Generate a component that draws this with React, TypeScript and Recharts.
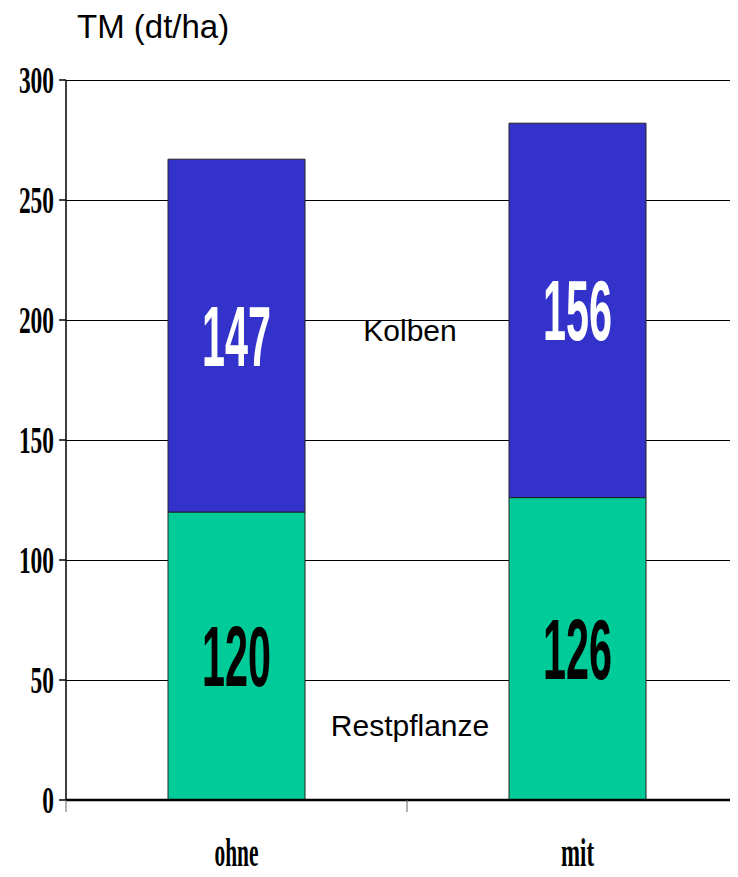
import { Bar, BarChart, CartesianGrid, LabelList, XAxis, YAxis } from 'recharts';

const categories = ['ohne', 'mit'];
const restpflanze = [120, 126];
const kolben = [147, 156];
const yTicks = [0, 50, 100, 150, 200, 250, 300];

const data = categories.map((name, i) => ({ name, restpflanze: restpflanze[i], kolben: kolben[i] }));

const YTick = (props: any) => {
    const { x, y, payload } = props;
    const s = String(payload.value);
    return (
        <text
            x={x - 3}
            y={y + 13}
            textAnchor="end"
            fontFamily="Liberation Serif"
            fontWeight="bold"
            fontSize={37}
            textLength={s.length * 11.7}
            lengthAdjust="spacingAndGlyphs"
            fill="#000"
        >
            {s}
        </text>
    );
};

const XTick = (props: any) => {
    const { x, y, payload, width } = props;
    const half = width / categories.length / 2;
    const s = String(payload.value);
    return (
        <g>
            <line x1={x - half} x2={x - half} y1={y - 8} y2={y + 4} stroke="#666" strokeWidth={1} />
            <text
                x={x}
                y={y + 58}
                textAnchor="middle"
                fontFamily="Liberation Serif"
                fontWeight="bold"
                fontSize={39}
                textLength={s.length * 11}
                lengthAdjust="spacingAndGlyphs"
                fill="#000"
            >
                {s}
            </text>
        </g>
    );
};

const valueLabel = (color: string) => (props: any) => {
    const { x, y, width, height, value } = props;
    const s = String(value);
    return (
        <text
            x={x + width / 2}
            y={y + height / 2 + 30}
            textAnchor="middle"
            fontFamily="Liberation Sans"
            fontWeight="bold"
            fontSize={86}
            textLength={s.length * 23}
            lengthAdjust="spacingAndGlyphs"
            fill={color}
        >
            {s}
        </text>
    );
};

export default function App() {
    return (
        <div style={{ position: 'relative', width: 730, height: 869, overflow: 'hidden', background: '#fff' }}>
            <BarChart width={740} height={869} data={data} margin={{ top: 72, right: 0, bottom: 0, left: 0 }}>
                <CartesianGrid vertical={false} stroke="#000" strokeWidth={1} shapeRendering="crispEdges" />
                <XAxis
                    dataKey="name"
                    height={77}
                    axisLine={{ stroke: '#000', strokeWidth: 2.5 }}
                    tickLine={false}
                    tick={<XTick />}
                />
                <YAxis
                    width={58}
                    domain={[0, 300]}
                    ticks={yTicks}
                    interval={0}
                    axisLine={{ stroke: '#000', strokeWidth: 1.5 }}
                    tickLine={{ stroke: '#000', strokeWidth: 1.5 }}
                    tickSize={7}
                    tick={<YTick />}
                />
                <Bar dataKey="restpflanze" stackId="a" fill="#00CC99" stroke="#222" strokeWidth={1} barSize={137} isAnimationActive={false}>
                    <LabelList dataKey="restpflanze" content={valueLabel('#000')} />
                </Bar>
                <Bar dataKey="kolben" stackId="a" fill="#3333CC" stroke="#222" strokeWidth={1} barSize={137} isAnimationActive={false}>
                    <LabelList dataKey="kolben" content={valueLabel('#fff')} />
                </Bar>
            </BarChart>
            <svg width={730} height={869} style={{ position: 'absolute', left: 0, top: 0, pointerEvents: 'none' }}>
                <text x={69} y={30} fontFamily="Liberation Sans" fontSize={33} fill="#000">
                    TM (dt/ha)
                </text>
                <text x={402} y={333} textAnchor="middle" fontFamily="Liberation Sans" fontSize={30} fill="#000">
                    Kolben
                </text>
                <text x={402} y={728} textAnchor="middle" fontFamily="Liberation Sans" fontSize={30} fill="#000">
                    Restpflanze
                </text>
            </svg>
        </div>
    );
}
